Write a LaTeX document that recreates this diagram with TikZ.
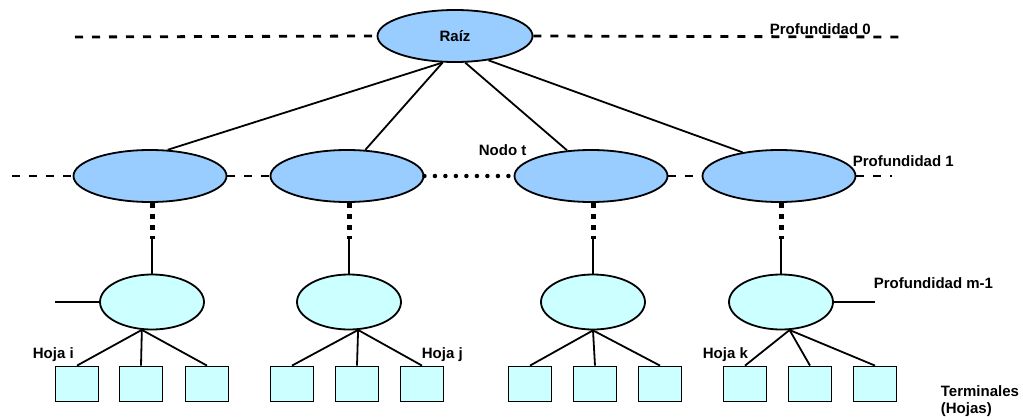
\documentclass[tikz,border=0pt]{standalone}
\usepackage{fontspec}
\setmainfont{Liberation Sans}
\usetikzlibrary{shapes.geometric}
\definecolor{nodoazul}{HTML}{99CCFF}
\definecolor{hojacian}{HTML}{CCFFFF}

\begin{document}
\begin{tikzpicture}[x=1pt,y=-1pt,line width=1.8pt,
  font=\fontsize{15}{18}\selectfont\bfseries,
  nodo/.style={ellipse,draw,fill=nodoazul,minimum width=153pt,minimum height=52pt,inner sep=0pt},
  interno/.style={ellipse,draw,fill=hojacian,minimum width=104pt,minimum height=55pt,inner sep=0pt},
  hoja/.style={rectangle,draw,fill=hojacian,minimum width=43pt,minimum height=35pt,inner sep=0pt},
  nivel/.style={dash pattern=on 8pt off 9pt,line width=2.8pt},
  puntos/.style={dash pattern=on 0pt off 10.5pt,line cap=round,line width=4.5pt},
  salto/.style={dash pattern=on 5pt off 6pt,line width=5pt},
  etiqueta/.style={inner sep=0pt,anchor=base west}]
  \useasboundingbox (0,0) rectangle (1023,420);
  % nodes: root, depth 1, depth m-1, leaves
  \node[nodo,minimum width=155pt] (raiz) at (455,36) {Raíz};
  \foreach \n/\x in {n1/150,n2/347,n3/591,n4/779}
    \node[nodo] (\n) at (\x,176) {};
  \foreach \n/\x in {m1/152,m2/349,m3/593,m4/781}
    \node[interno] (\n) at (\x,302) {};
  \foreach \g/\xa/\xb/\xc in {1/77/141/207,2/292/357/422,3/530/595/660,4/745/810/875}{
    \node[hoja] (h\g a) at (\xa,384) {};
    \node[hoja] (h\g b) at (\xb,384) {};
    \node[hoja] (h\g c) at (\xc,384) {};
  }
  % depth lines
  \coordinate (top0) at (75,37);
  \coordinate (top1) at (902,37);
  \coordinate (lvlL) at (12,176);
  \coordinate (lvlR) at (892,176);
  \draw[nivel] (top0) -- (raiz.west) (raiz.east) -- (top1);
  \draw[nivel] (lvlL) -- (n1.west) (n1.east) -- (n2.west);
  \draw[puntos] (n2.east) -- (n3.west);
  \draw[nivel] (n3.east) -- (n4.west) (n4.east) -- (lvlR);
  % links from the root
  \foreach \a/\n/\b in {245/n1/56,245/n2/55,291/n3/133,324/n4/147}
    \draw (raiz.\a) -- (\n.\b);
  % skipped levels (thick dots, then a short link)
  \foreach \i in {1,2,3,4}{
    \path (m\i.north) ++(0,-34.5) coordinate (k\i);
    \draw[salto] (m\i.north |- n\i.south) -- (k\i);
    \draw (k\i) -- (m\i.north);
  }
  % side links
  \coordinate (izq) at (55,302);
  \coordinate (der) at (875,302);
  \draw (izq) -- (m1.west);
  \draw (m4.east) -- (der);
  % leaves
  \foreach \g/\a in {1/250,2/288,3/270,4/287}
    \foreach \s in {a,b,c}
      \draw (m\g.\a) -- (h\g\s.north);
  % labels
  \node[etiqueta] (p0) at (769,35) {Profundidad 0};
  \node[etiqueta] (p1) at (852,166) {Profundidad 1};
  \node[etiqueta] (pm) at (873,288) {Profundidad m-1};
  \node[etiqueta] (nt) at (478,155) {Nodo t};
  \node[etiqueta] (hi) at (32,358) {Hoja i};
  \node[etiqueta] (hj) at (421,358) {Hoja j};
  \node[etiqueta] (hk) at (702,358) {Hoja k};
  \node[etiqueta] (term) at (940,396) {Terminales};
  \node[etiqueta] (hojas) at (940,413) {(Hojas)};
\end{tikzpicture}
\end{document}
